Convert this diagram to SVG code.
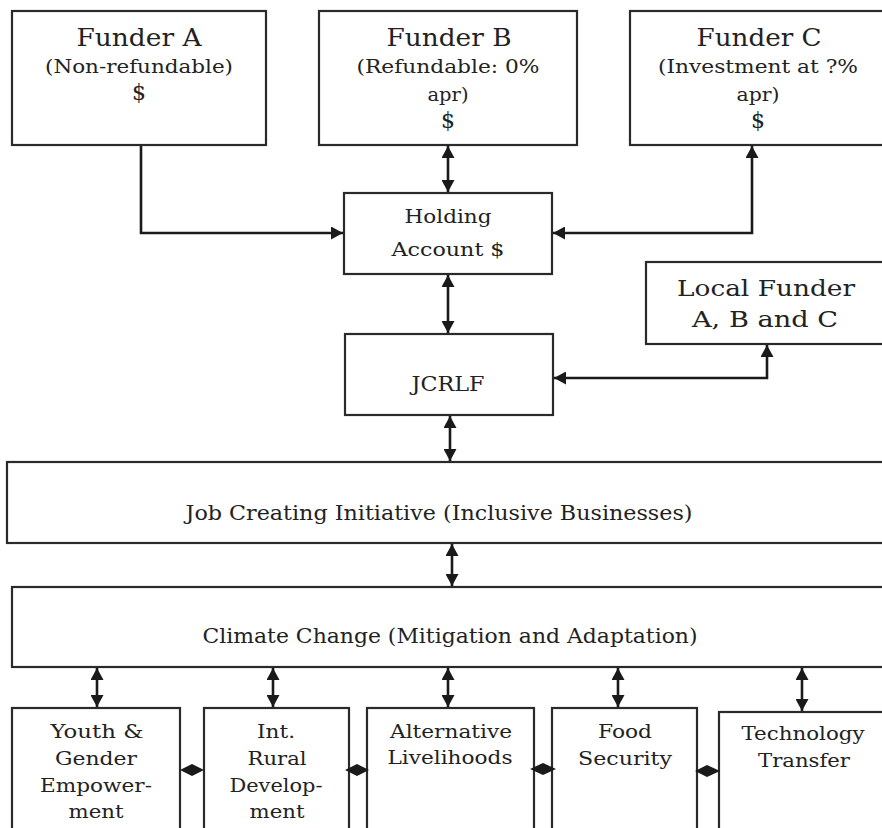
<svg xmlns="http://www.w3.org/2000/svg" width="882" height="828" viewBox="0 0 882 828">
<defs>
<marker id="ah" markerUnits="userSpaceOnUse" markerWidth="13" markerHeight="13" refX="12" refY="6.5" orient="auto-start-reverse" viewBox="0 0 13 13">
<path d="M0,0 L12,6.5 L0,13 z" fill="#1a1a1a"/>
</marker>
<style>
.box{fill:#fff;stroke:#2a2a2a;stroke-width:2.2}
.t{font-family:"DejaVu Serif","Liberation Serif",serif;fill:#222;text-anchor:middle}
.c{fill:none;stroke:#1a1a1a;stroke-width:2.6;marker-start:url(#ah);marker-end:url(#ah)}
.s{fill:none;stroke:#1a1a1a;stroke-width:2.6;marker-end:url(#ah)}
.d{fill:#1a1a1a}
</style>
</defs>
<rect width="882" height="828" fill="#fff"/>

<g id="funderA">
<rect class="box" x="12" y="11" width="254" height="134"/>
<text class="t" x="139" y="46" font-size="24" textLength="125" lengthAdjust="spacingAndGlyphs">Funder A</text>
<text class="t" x="139" y="73" font-size="18" textLength="188" lengthAdjust="spacingAndGlyphs">(Non-refundable)</text>
<text class="t" x="139" y="100" font-size="22">$</text>
</g>

<g id="funderB">
<rect class="box" x="319" y="11" width="258" height="134"/>
<text class="t" x="449" y="46" font-size="24" textLength="125" lengthAdjust="spacingAndGlyphs">Funder B</text>
<text class="t" x="448" y="73" font-size="18" textLength="183" lengthAdjust="spacingAndGlyphs">(Refundable: 0%</text>
<text class="t" x="448" y="101" font-size="18" textLength="41" lengthAdjust="spacingAndGlyphs">apr)</text>
<text class="t" x="448" y="128" font-size="22">$</text>
</g>

<g id="funderC">
<rect class="box" x="630" y="11" width="262" height="134"/>
<text class="t" x="759" y="46" font-size="24" textLength="125" lengthAdjust="spacingAndGlyphs">Funder C</text>
<text class="t" x="758" y="73" font-size="18" textLength="200" lengthAdjust="spacingAndGlyphs">(Investment at ?%</text>
<text class="t" x="758" y="101" font-size="18" textLength="43" lengthAdjust="spacingAndGlyphs">apr)</text>
<text class="t" x="758" y="128" font-size="22">$</text>
</g>

<g id="holding">
<rect class="box" x="344" y="193" width="208" height="81"/>
<text class="t" x="448" y="223" font-size="19" textLength="87" lengthAdjust="spacingAndGlyphs">Holding</text>
<text class="t" x="448" y="256" font-size="19" textLength="113" lengthAdjust="spacingAndGlyphs">Account $</text>
</g>

<g id="localFunder">
<rect class="box" x="646" y="262" width="250" height="82"/>
<text class="t" x="766" y="296" font-size="22" textLength="178" lengthAdjust="spacingAndGlyphs">Local Funder</text>
<text class="t" x="765" y="327" font-size="22" textLength="146" lengthAdjust="spacingAndGlyphs">A, B and C</text>
</g>

<g id="jcrlf">
<rect class="box" x="345" y="334" width="208" height="81"/>
<text class="t" x="448" y="391" font-size="20" textLength="73" lengthAdjust="spacingAndGlyphs">JCRLF</text>
</g>

<g id="jobCreating">
<rect class="box" x="7" y="462" width="890" height="81"/>
<text class="t" x="439" y="520" font-size="21" textLength="507" lengthAdjust="spacingAndGlyphs">Job Creating Initiative (Inclusive Businesses)</text>
</g>

<g id="climateChange">
<rect class="box" x="12" y="587" width="890" height="80"/>
<text class="t" x="450" y="643" font-size="21" textLength="495" lengthAdjust="spacingAndGlyphs">Climate Change (Mitigation and Adaptation)</text>
</g>

<g id="youthGender">
<rect class="box" x="12" y="708" width="168" height="140"/>
<text class="t" x="97" y="738" font-size="19" textLength="93" lengthAdjust="spacingAndGlyphs">Youth &amp;</text>
<text class="t" x="96" y="765" font-size="19" textLength="82" lengthAdjust="spacingAndGlyphs">Gender</text>
<text class="t" x="96" y="792" font-size="19" textLength="112" lengthAdjust="spacingAndGlyphs">Empower-</text>
<text class="t" x="96" y="818" font-size="19" textLength="55" lengthAdjust="spacingAndGlyphs">ment</text>
</g>

<g id="ruralDev">
<rect class="box" x="204" y="708" width="145" height="140"/>
<text class="t" x="276" y="738" font-size="19" textLength="38" lengthAdjust="spacingAndGlyphs">Int.</text>
<text class="t" x="277" y="765" font-size="19" textLength="59" lengthAdjust="spacingAndGlyphs">Rural</text>
<text class="t" x="276" y="792" font-size="19" textLength="93" lengthAdjust="spacingAndGlyphs">Develop-</text>
<text class="t" x="277" y="818" font-size="19" textLength="55" lengthAdjust="spacingAndGlyphs">ment</text>
</g>

<g id="altLivelihoods">
<rect class="box" x="367" y="708" width="167" height="140"/>
<text class="t" x="451" y="738" font-size="19" textLength="122" lengthAdjust="spacingAndGlyphs">Alternative</text>
<text class="t" x="450" y="764" font-size="19" textLength="125" lengthAdjust="spacingAndGlyphs">Livelihoods</text>
</g>

<g id="foodSecurity">
<rect class="box" x="552" y="708" width="145" height="140"/>
<text class="t" x="625" y="738" font-size="19" textLength="54" lengthAdjust="spacingAndGlyphs">Food</text>
<text class="t" x="625" y="765" font-size="19" textLength="94" lengthAdjust="spacingAndGlyphs">Security</text>
</g>

<g id="techTransfer">
<rect class="box" x="719" y="712" width="180" height="140"/>
<text class="t" x="803" y="740" font-size="19" textLength="123" lengthAdjust="spacingAndGlyphs">Technology</text>
<text class="t" x="804" y="767" font-size="19" textLength="92" lengthAdjust="spacingAndGlyphs">Transfer</text>
</g>

<g id="connectors">
<path class="s" d="M141,146 V233 H343"/>
<path class="c" d="M448,146 V192"/>
<path class="c" d="M553,233 H752 V146"/>
<path class="c" d="M448,275 V333"/>
<path class="c" d="M554,378 H767 V345"/>
<path class="c" d="M450,416 V461"/>
<path class="c" d="M452,544 V586"/>
<path class="c" d="M97,668 V707"/>
<path class="c" d="M273,668 V707"/>
<path class="c" d="M448,668 V707"/>
<path class="c" d="M618,668 V707"/>
<path class="c" d="M802,668 V711"/>
<polygon class="d" points="180,770 192,764 204,770 192,776"/>
<polygon class="d" points="345,770 357,764 369,770 357,776"/>
<polygon class="d" points="530,769 543,763 556,769 543,775"/>
<polygon class="d" points="695,771 707,765 720,771 707,777"/>
</g>
</svg>
